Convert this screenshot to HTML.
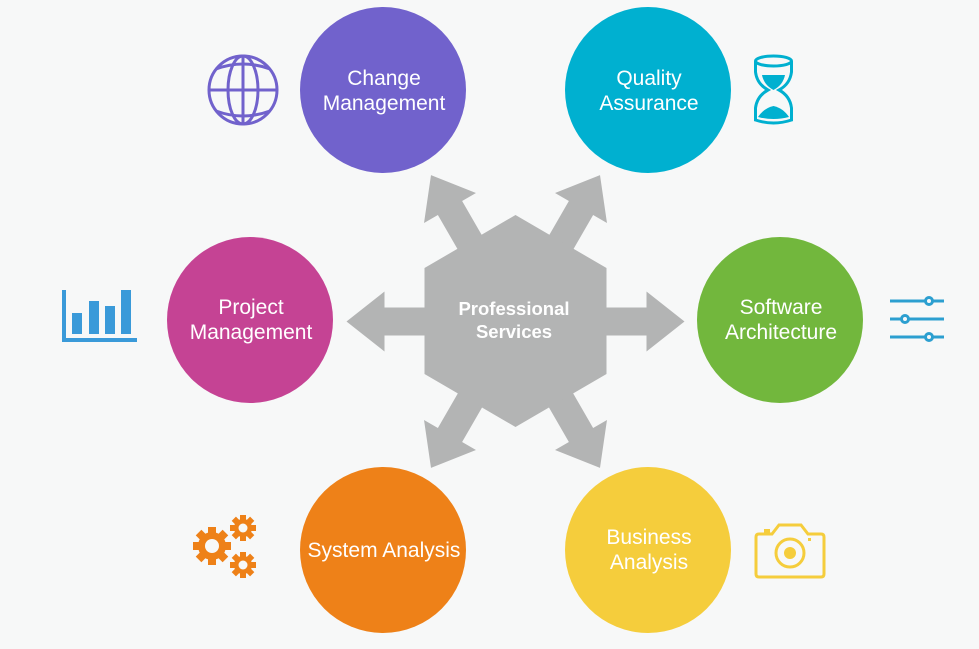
<!DOCTYPE html>
<html><head><meta charset="utf-8"><style>
html,body{margin:0;padding:0;background:#f7f8f8;}
svg{display:block;}
text{font-family:"Liberation Sans",Arial,sans-serif;}
</style></head><body>
<svg width="979" height="649" viewBox="0 0 979 649" xmlns="http://www.w3.org/2000/svg">
<rect width="979" height="649" fill="#f7f8f8"/>
<defs>
<polygon id="arr" points="0,-14 131,-14 131,-30 169,0 131,30 131,14 0,14"/>
</defs>
<g fill="#b3b4b4" transform="translate(515.5,321.5)">
<use href="#arr"/>
<use href="#arr" transform="rotate(180)"/>
<use href="#arr" transform="rotate(-60)"/>
<use href="#arr" transform="rotate(-120)"/>
<use href="#arr" transform="rotate(60)"/>
<use href="#arr" transform="rotate(120)"/>
</g>
<polygon fill="#b3b4b4" points="515.5,215 606.5,268 606.5,374 515.5,427 424.5,374 424.5,268"/>
<text x="514" y="315" fill="#fff" font-size="18.5" font-weight="bold" text-anchor="middle">Professional</text>
<text x="514" y="338" fill="#fff" font-size="18.5" font-weight="bold" text-anchor="middle">Services</text>

<circle cx="383" cy="90" r="83" fill="#7162cc"/>
<circle cx="648" cy="90" r="83" fill="#00b0d0"/>
<circle cx="250" cy="320" r="83" fill="#c54394"/>
<circle cx="780" cy="320" r="83" fill="#72b73d"/>
<circle cx="383" cy="550" r="83" fill="#ee8118"/>
<circle cx="648" cy="550" r="83" fill="#f5cd3c"/>
<g fill="#fff" font-size="21" text-anchor="middle">
<text x="384" y="85">Change</text><text x="384" y="110">Management</text>
<text x="649" y="85">Quality</text><text x="649" y="110">Assurance</text>
<text x="251" y="314">Project</text><text x="251" y="339">Management</text>
<text x="781" y="314">Software</text><text x="781" y="339">Architecture</text>
<text x="384" y="557">System Analysis</text>
<text x="649" y="544">Business</text><text x="649" y="569">Analysis</text>
</g>

<g fill="none" stroke="#7162cc" stroke-width="3">
<circle cx="243" cy="90" r="34"/>
<ellipse cx="243" cy="90" rx="15" ry="34"/>
<line x1="243" y1="56" x2="243" y2="124"/>
<line x1="209" y1="90" x2="277" y2="90"/>
<path d="M216,69 Q243,59 270,69"/>
<path d="M216,111 Q243,121 270,111"/>
</g>
<g fill="none" stroke="#00b0d0" stroke-width="3">
<ellipse cx="773.5" cy="61" rx="18" ry="5"/>
<path d="M755.5,61 L755.5,72 Q757,84 768,90 Q757,96 755.5,108 L755.5,120 Q773.5,126 791.5,120 L791.5,108 Q790,96 779,90 Q790,84 791.5,72 L791.5,61"/>
</g>
<path fill="#00b0d0" d="M762,75 L785,75 Q783,85 773.5,90 Q764,85 762,75Z"/>
<path fill="#00b0d0" d="M758,117 Q764,108 773.5,106 Q783,108 789,117 Q773.5,121 758,117Z"/>
<g fill="#3a9ad9">
<rect x="62" y="290" width="4" height="52"/>
<rect x="62" y="338" width="75" height="4"/>
<rect x="72" y="313" width="10" height="21"/>
<rect x="89" y="301" width="10" height="33"/>
<rect x="105" y="306" width="10" height="28"/>
<rect x="121" y="290" width="10" height="44"/>
</g>
<g stroke="#2c9fd0" stroke-width="3" fill="none">
<line x1="890" y1="301" x2="925" y2="301"/><line x1="933" y1="301" x2="944" y2="301"/>
<line x1="890" y1="319" x2="901" y2="319"/><line x1="909" y1="319" x2="944" y2="319"/>
<line x1="890" y1="337" x2="925" y2="337"/><line x1="933" y1="337" x2="944" y2="337"/>
<circle cx="929" cy="301" r="3.5"/><circle cx="905" cy="319" r="3.5"/><circle cx="929" cy="337" r="3.5"/>
</g>
<g fill="#ee8118">
<g transform="translate(212,546)">
<circle r="14"/>
<g><rect x="-4" y="-19" width="8" height="38"/><rect x="-4" y="-19" width="8" height="38" transform="rotate(45)"/><rect x="-4" y="-19" width="8" height="38" transform="rotate(90)"/><rect x="-4" y="-19" width="8" height="38" transform="rotate(135)"/></g>
<circle r="7" fill="#f7f8f8"/>
</g>
<g transform="translate(243,528)">
<circle r="9"/>
<rect x="-3" y="-13" width="6" height="26"/><rect x="-3" y="-13" width="6" height="26" transform="rotate(45)"/><rect x="-3" y="-13" width="6" height="26" transform="rotate(90)"/><rect x="-3" y="-13" width="6" height="26" transform="rotate(135)"/>
<circle r="4.5" fill="#f7f8f8"/>
</g>
<g transform="translate(243,565)">
<circle r="9"/>
<rect x="-3" y="-13" width="6" height="26"/><rect x="-3" y="-13" width="6" height="26" transform="rotate(45)"/><rect x="-3" y="-13" width="6" height="26" transform="rotate(90)"/><rect x="-3" y="-13" width="6" height="26" transform="rotate(135)"/>
<circle r="4.5" fill="#f7f8f8"/>
</g>
</g>
<g fill="none" stroke="#f5cd3c" stroke-width="3">
<path d="M759,534 L772,534 L779,525 L801,525 L808,534 L821,534 Q824,534 824,537 L824,574 Q824,577 821,577 L759,577 Q756,577 756,574 L756,537 Q756,534 759,534Z"/>
<circle cx="790" cy="553" r="14"/>
</g>
<rect x="764" y="529" width="6" height="4" fill="#f5cd3c"/>
<circle cx="790" cy="553" r="6" fill="#f5cd3c"/>
<rect x="808" y="538" width="3" height="3" fill="#f5cd3c"/>
</svg>
</body></html>
